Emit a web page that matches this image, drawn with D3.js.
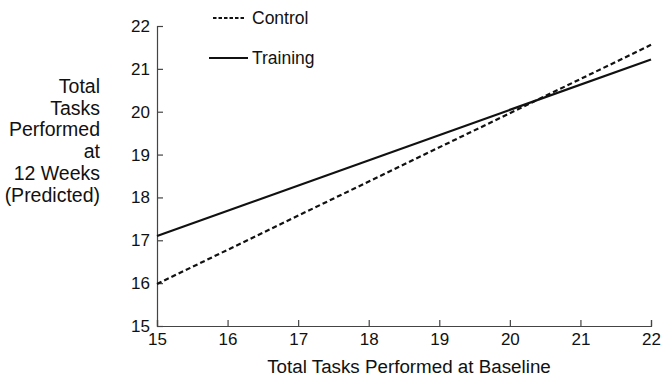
<!DOCTYPE html>
<html>
<head>
<meta charset="utf-8">
<script src="https://cdn.jsdelivr.net/npm/d3@7"></script>
<style>
  html, body { margin: 0; padding: 0; background: #fff; }
  svg text { font-family: "Liberation Sans", Arial, Helvetica, sans-serif; fill: #111; }
</style>
</head>
<body>
<svg id="chart" width="661" height="376"></svg>
<script>
// Baseline task counts (x) and predicted 12-week task counts per group
const baselineEnds = [15, 22];
const controlPredicted = [15.98, 21.56];
const trainingPredicted = [17.1, 21.22];
const xTicks = [15, 16, 17, 18, 19, 20, 21, 22];
const yTicks = [15, 16, 17, 18, 19, 20, 21, 22];
const seriesNames = ["Control", "Training"];
const yTitleLines = ["Total", "Tasks", "Performed", "at", "12 Weeks", "(Predicted)"];
const xTitle = "Total Tasks Performed at Baseline";

const svg = d3.select("#chart");
const x = d3.scaleLinear().domain([15, 22]).range([157, 651]);
const y = d3.scaleLinear().domain([15, 22]).range([326, 26]);

// X axis: ticks point up into the plot
const xAxis = svg.append("g")
  .attr("transform", `translate(0,${y(15)})`)
  .call(d3.axisBottom(x).tickValues(xTicks).tickSize(-6).tickPadding(7).tickFormat(d3.format("d")));
// Y axis: ticks point right into the plot
const yAxis = svg.append("g")
  .attr("transform", `translate(${x(15)},0)`)
  .call(d3.axisLeft(y).tickValues(yTicks).tickSize(-6).tickPadding(7).tickFormat(d3.format("d")));

[xAxis, yAxis].forEach(g => {
  g.select(".domain").attr("stroke", "#444").attr("stroke-width", 1.2);
  g.selectAll(".tick line").attr("stroke", "#444").attr("stroke-width", 1.2);
  g.selectAll(".tick text").style("font-size", "17px").attr("fill", "#111");
});

// Regression lines
const line = d3.line().x(d => x(d[0])).y(d => y(d[1]));
const controlPts = baselineEnds.map((b, i) => [b, controlPredicted[i]]);
const trainingPts = baselineEnds.map((b, i) => [b, trainingPredicted[i]]);

svg.append("path").datum(controlPts).attr("d", line)
  .attr("fill", "none").attr("stroke", "#111").attr("stroke-width", 2.2)
  .attr("stroke-dasharray", "5,3");
svg.append("path").datum(trainingPts).attr("d", line)
  .attr("fill", "none").attr("stroke", "#111").attr("stroke-width", 2.2);

// Legend
const legend = svg.append("g");
legend.append("line").attr("x1", 213).attr("x2", 244).attr("y1", 18).attr("y2", 18)
  .attr("stroke", "#111").attr("stroke-width", 1.8).attr("stroke-dasharray", "3.5,2");
legend.append("text").attr("x", 252).attr("y", 18).attr("dy", "0.35em")
  .style("font-size", "17.5px").text(seriesNames[0]);
legend.append("line").attr("x1", 209).attr("x2", 248).attr("y1", 58).attr("y2", 58)
  .attr("stroke", "#111").attr("stroke-width", 1.8);
legend.append("text").attr("x", 252).attr("y", 58).attr("dy", "0.35em")
  .style("font-size", "17.5px").text(seriesNames[1]);

// Axis titles
svg.append("text").attr("x", 409).attr("y", 373).attr("text-anchor", "middle")
  .style("font-size", "18.8px").text(xTitle);

const yTitle = svg.append("text").attr("text-anchor", "end").style("font-size", "19.5px");
yTitleLines.forEach((t, i) => {
  yTitle.append("tspan").attr("x", 100).attr("y", 86 + i * 21.8).attr("dy", "0.35em").text(t);
});
</script>
</body>
</html>
